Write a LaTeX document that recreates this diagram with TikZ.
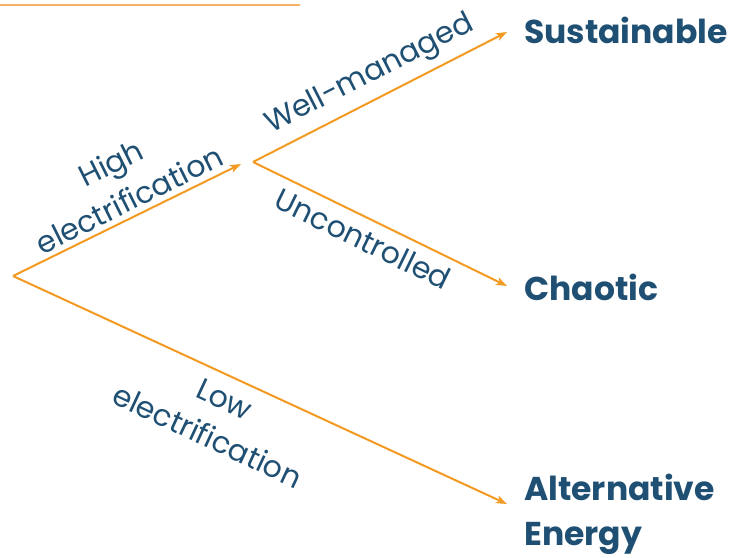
\documentclass[tikz,border=0pt]{standalone}
\usepackage{fontspec}
\setmainfont{Poppins}
\usetikzlibrary{arrows.meta}
\definecolor{branch}{HTML}{F39A22}
\definecolor{rule}{HTML}{F6B265}
\definecolor{ink}{HTML}{1F5073}
\tikzset{
  branchline/.style={draw=branch, line width=2pt, -{Stealth[length=11pt,width=8pt,inset=3pt]}},
  pathlabel/.style={text=ink, font=\fontsize{30}{41}\selectfont, align=center, inner sep=0pt},
  outcome/.style={text=ink, font=\fontsize{33}{45}\selectfont\bfseries, anchor=west, align=left, inner sep=0pt}
}
\begin{document}
\begin{tikzpicture}[x=1pt, y=-1pt]
  \useasboundingbox (0,0) rectangle (736,557);
  % header rule
  \draw[rule, line width=2pt] (0,5) -- (300,5);

  % branch points and arrow tips
  \coordinate (root) at (13,276);
  \coordinate (hiTip) at (241,164);
  \coordinate (split) at (253,162);
  \coordinate (wellTip) at (507,32);
  \coordinate (unTip) at (507,286);
  \coordinate (lowTip) at (507,504);

  % outcomes
  \node[outcome] (sust) at (524,30) {Sustainable};
  \node[outcome] (chaos) at (524,287) {Chaotic};
  \node[outcome] (alt) at (524,514) {Alternative\\Energy};

  % connectors
  \draw[branchline] (root) -- (hiTip);
  \draw[branchline] (root) -- (lowTip);
  \draw[branchline] (split) -- (wellTip);
  \draw[branchline] (split) -- (unTip);

  % path labels
  \node[pathlabel, rotate=26.5] (high) at (120,181) {High\\electrification};
  \node[pathlabel, rotate=27] (well) at (370,75) {Well-managed};
  \node[pathlabel, rotate=-26] (unc) at (363,239) {Uncontrolled};
  \node[pathlabel, rotate=-25] (low) at (216,418) {Low\\electrification};
\end{tikzpicture}
\end{document}
